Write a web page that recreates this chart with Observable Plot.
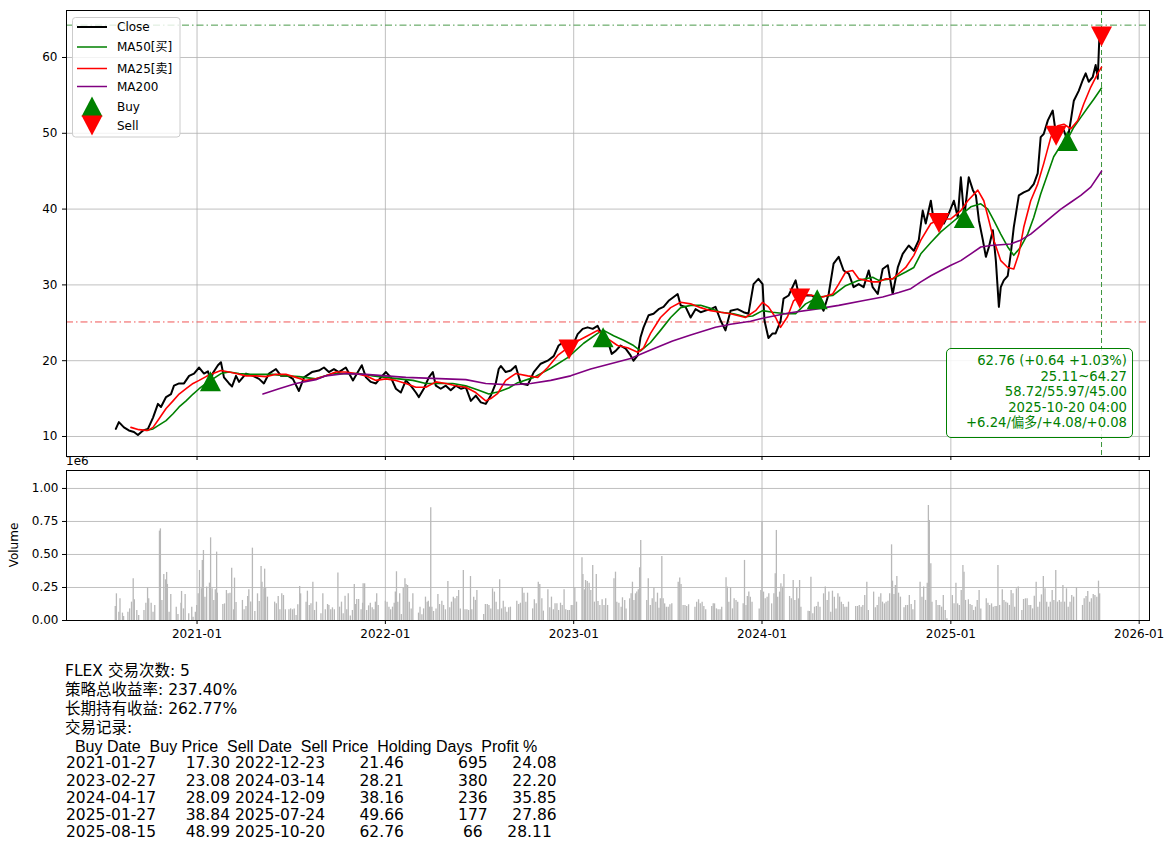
<!DOCTYPE html>
<html><head><meta charset="utf-8">
<script src="https://cdn.jsdelivr.net/npm/d3@7"></script>
<script src="https://cdn.jsdelivr.net/npm/@observablehq/plot@0.6"></script>
<style>
html,body{margin:0;padding:0;background:#fff;}
#root{position:relative;width:1175px;height:852px;overflow:hidden;font-family:"DejaVu Sans","Noto Sans CJK SC",sans-serif;color:#000;}
#root svg{position:absolute;left:0;}
.abs{position:absolute;}
#info{left:946px;top:348px;width:187px;height:90px;border:1.2px solid #008000;border-radius:5px;background:rgba(255,255,255,0.85);color:#008000;font-size:13.2px;line-height:15.5px;text-align:right;box-sizing:border-box;padding:4px 5px 0 0;white-space:pre;}
#summary{left:65px;top:662px;font-size:15.5px;line-height:19.1px;white-space:pre;}
#thead{left:66px;top:738.1px;font-family:"Liberation Sans","Noto Sans CJK SC",sans-serif;font-size:16px;line-height:17.2px;white-space:pre;}
#table{left:66px;top:755.3px;font-size:15.5px;line-height:17.2px;white-space:pre;}
#e6{left:66px;top:454px;font-size:12px;}
#vlabel{left:-12px;top:538px;font-size:12px;transform:rotate(-90deg);transform-origin:center;width:52px;text-align:center;}
</style></head>
<body><div id="root"></div>
<script>
// ---------------- data ----------------
const ticker = "FLEX";
const xStart = "2020-04-23", xEnd = "2026-01-21";
const xTickLabels = ["2021-01","2022-01","2023-01","2024-01","2025-01","2026-01"];
const yTicks = [10,20,30,40,50,60];
const volTicks = [0,0.25,0.5,0.75,1.0];
const priceDomain = [7.36, 66.2];
const volDomain = [0, 1.136]; // in units of 1e6

// [decimal year, close]
const closeSeries = [
[2020.570,11.0],[2020.586,11.9],[2020.613,11.2],[2020.639,10.8],[2020.666,10.6],[2020.687,10.2],[2020.714,10.8],[2020.740,11.0],
[2020.767,12.5],[2020.793,14.3],[2020.809,13.9],[2020.836,15.2],[2020.862,15.6],[2020.878,16.7],[2020.905,17.0],[2020.931,17.0],
[2020.958,18.0],[2020.984,18.3],[2021.011,19.1],[2021.037,18.3],[2021.058,18.6],[2021.071,17.3],[2021.085,18.4],[2021.111,19.4],
[2021.127,19.8],[2021.143,17.8],[2021.170,17.0],[2021.186,16.6],[2021.207,18.0],[2021.223,17.2],[2021.260,18.3],[2021.297,18.0],
[2021.329,17.6],[2021.355,17.0],[2021.382,18.3],[2021.419,18.9],[2021.446,18.0],[2021.483,18.0],[2021.509,17.6],[2021.541,16.0],
[2021.568,17.8],[2021.610,18.5],[2021.647,18.7],[2021.674,19.1],[2021.700,18.5],[2021.727,18.9],[2021.753,18.5],[2021.790,19.1],
[2021.828,17.4],[2021.854,18.5],[2021.875,19.4],[2021.897,17.8],[2021.923,17.2],[2021.950,17.0],[2021.976,17.8],[2022.003,18.5],
[2022.029,17.8],[2022.056,16.3],[2022.082,15.8],[2022.109,17.4],[2022.135,16.7],[2022.162,15.8],[2022.178,15.2],[2022.204,16.3],
[2022.231,17.8],[2022.252,18.5],[2022.268,16.7],[2022.294,16.3],[2022.321,16.7],[2022.347,16.1],[2022.374,16.7],[2022.401,16.3],
[2022.427,16.5],[2022.454,14.7],[2022.480,15.4],[2022.507,14.5],[2022.533,14.3],[2022.560,15.4],[2022.586,17.0],[2022.602,18.9],
[2022.613,19.3],[2022.639,18.5],[2022.666,18.7],[2022.692,19.3],[2022.719,17.0],[2022.756,16.8],[2022.788,18.5],[2022.825,19.6],
[2022.862,20.0],[2022.894,20.6],[2022.920,22.0],[2022.942,22.4],[2022.968,21.8],[2022.975,21.46],[2022.995,22.0],[2023.021,23.5],
[2023.048,24.2],[2023.074,24.4],[2023.101,24.2],[2023.127,24.6],[2023.156,23.08],[2023.180,22.7],[2023.202,20.9],[2023.223,21.3],
[2023.249,22.0],[2023.276,21.6],[2023.302,20.7],[2023.318,20.0],[2023.340,20.7],[2023.355,23.1],[2023.371,24.4],[2023.398,26.0],
[2023.424,26.2],[2023.451,26.8],[2023.477,27.1],[2023.504,27.9],[2023.531,28.4],[2023.552,28.8],[2023.568,27.3],[2023.594,27.1],
[2023.621,25.7],[2023.647,26.8],[2023.674,26.4],[2023.700,26.6],[2023.727,26.8],[2023.753,27.1],[2023.780,25.3],[2023.806,24.0],
[2023.833,26.6],[2023.870,26.8],[2023.902,26.4],[2023.928,26.2],[2023.955,30.1],[2023.981,30.8],[2024.003,30.1],[2024.013,25.3],
[2024.034,23.0],[2024.056,23.6],[2024.072,23.6],[2024.098,25.2],[2024.114,28.2],[2024.141,28.6],[2024.178,30.6],[2024.199,28.21],
[2024.231,28.6],[2024.263,28.6],[2024.292,28.09],[2024.326,26.6],[2024.353,28.8],[2024.379,32.8],[2024.406,33.7],[2024.432,31.9],
[2024.459,31.5],[2024.485,29.7],[2024.512,30.1],[2024.538,29.7],[2024.565,31.9],[2024.586,29.7],[2024.613,28.8],[2024.639,32.1],
[2024.666,32.6],[2024.692,28.8],[2024.719,32.3],[2024.745,34.1],[2024.777,35.2],[2024.804,34.5],[2024.830,35.9],[2024.851,39.8],
[2024.867,38.1],[2024.894,41.1],[2024.910,38.3],[2024.937,38.16],[2024.963,38.1],[2024.989,39.4],[2025.016,41.1],[2025.037,38.9],
[2025.053,44.2],[2025.071,38.84],[2025.095,44.2],[2025.117,42.5],[2025.133,41.8],[2025.149,38.5],[2025.170,35.9],[2025.186,33.7],
[2025.202,35.0],[2025.223,37.2],[2025.239,33.2],[2025.255,27.1],[2025.265,29.7],[2025.281,30.6],[2025.302,31.2],[2025.318,34.1],
[2025.334,37.6],[2025.361,41.8],[2025.387,42.2],[2025.414,42.5],[2025.440,43.3],[2025.461,44.7],[2025.477,49.5],[2025.493,49.9],
[2025.515,51.7],[2025.541,53.0],[2025.559,49.66],[2025.573,50.4],[2025.600,50.4],[2025.619,48.99],[2025.637,51.7],[2025.653,54.3],
[2025.679,55.6],[2025.700,57.0],[2025.716,57.9],[2025.732,56.8],[2025.753,57.4],[2025.769,59.0],[2025.780,57.2],[2025.790,63.6],
[2025.800,62.76]
];

// MA25 (sell line)
const ma25Series = [
[2020.650,11.2],[2020.692,10.9],[2020.740,10.8],[2020.767,11.2],[2020.798,12.3],[2020.836,13.7],[2020.873,14.7],[2020.905,15.6],
[2020.942,16.3],[2020.979,17.0],[2021.011,17.4],[2021.048,17.9],[2021.085,18.3],[2021.127,18.7],[2021.170,18.5],[2021.207,18.3],
[2021.260,18.0],[2021.313,18.0],[2021.366,17.9],[2021.419,18.2],[2021.472,18.2],[2021.525,17.8],[2021.578,17.4],[2021.631,17.6],
[2021.684,18.0],[2021.737,18.5],[2021.790,18.5],[2021.843,18.3],[2021.897,18.0],[2021.950,17.4],[2022.003,17.6],[2022.056,17.4],
[2022.109,17.0],[2022.162,16.5],[2022.215,16.5],[2022.268,17.2],[2022.321,17.0],[2022.374,16.7],[2022.427,16.5],[2022.480,15.8],
[2022.533,14.7],[2022.560,15.0],[2022.597,15.7],[2022.639,17.4],[2022.692,18.3],[2022.756,18.0],[2022.809,17.8],[2022.862,19.1],
[2022.915,20.7],[2022.968,21.7],[2023.021,22.6],[2023.074,23.3],[2023.127,24.0],[2023.180,22.9],[2023.233,22.0],[2023.286,21.7],
[2023.340,21.1],[2023.371,21.7],[2023.408,23.6],[2023.461,25.7],[2023.515,27.0],[2023.568,27.7],[2023.621,27.5],[2023.674,27.0],
[2023.727,26.6],[2023.780,26.4],[2023.833,26.2],[2023.912,25.7],[2023.966,26.6],[2024.003,27.7],[2024.034,27.1],[2024.072,25.7],
[2024.098,24.4],[2024.135,25.8],[2024.167,27.9],[2024.215,28.8],[2024.268,28.6],[2024.321,28.4],[2024.374,28.8],[2024.406,30.1],
[2024.443,31.7],[2024.480,31.9],[2024.512,30.8],[2024.549,30.6],[2024.586,30.4],[2024.618,30.4],[2024.655,30.8],[2024.692,30.8],
[2024.724,31.5],[2024.761,32.3],[2024.804,33.9],[2024.841,35.9],[2024.894,38.1],[2024.947,38.7],[2025.000,38.7],[2025.053,39.8],
[2025.090,41.1],[2025.143,42.5],[2025.175,41.1],[2025.202,38.5],[2025.228,35.9],[2025.265,33.2],[2025.302,32.3],[2025.334,32.1],
[2025.361,34.1],[2025.387,37.6],[2025.424,41.1],[2025.461,43.3],[2025.493,46.0],[2025.531,49.5],[2025.568,51.0],[2025.600,51.2],
[2025.637,50.6],[2025.674,51.7],[2025.706,53.9],[2025.743,56.1],[2025.780,57.9],[2025.800,58.72]
];

// MA50 (buy line)
const ma50Series = [
[2020.729,10.8],[2020.767,11.0],[2020.798,11.5],[2020.836,12.1],[2020.873,13.0],[2020.905,13.9],[2020.942,14.7],[2020.979,15.6],
[2021.011,16.3],[2021.048,17.0],[2021.085,17.6],[2021.127,18.3],[2021.170,18.5],[2021.223,18.3],[2021.276,18.2],[2021.329,18.2],
[2021.403,18.2],[2021.472,18.0],[2021.541,17.9],[2021.631,17.6],[2021.721,18.3],[2021.790,18.3],[2021.859,18.3],[2021.934,18.0],
[2022.003,17.8],[2022.072,17.6],[2022.146,17.4],[2022.215,17.0],[2022.284,17.0],[2022.358,17.0],[2022.427,16.7],[2022.496,16.1],
[2022.549,15.6],[2022.602,15.9],[2022.655,16.4],[2022.703,17.1],[2022.788,17.8],[2022.878,19.0],[2022.968,20.4],[2023.053,22.3],
[2023.127,23.6],[2023.159,24.0],[2023.212,23.3],[2023.265,22.7],[2023.318,22.0],[2023.355,21.3],[2023.408,22.4],[2023.461,24.0],
[2023.515,25.7],[2023.568,27.0],[2023.621,27.3],[2023.674,27.3],[2023.727,26.9],[2023.780,26.4],[2023.849,26.2],[2023.912,25.8],
[2023.950,25.9],[2024.003,26.6],[2024.056,26.4],[2024.125,26.2],[2024.178,26.2],[2024.231,27.5],[2024.300,28.4],[2024.374,28.6],
[2024.443,29.9],[2024.512,30.6],[2024.586,31.0],[2024.618,30.6],[2024.692,30.8],[2024.761,31.7],[2024.804,32.3],[2024.841,34.1],
[2024.894,35.6],[2024.947,37.0],[2025.000,38.1],[2025.053,39.2],[2025.106,40.3],[2025.159,40.7],[2025.196,40.0],[2025.228,38.5],
[2025.265,36.7],[2025.302,35.0],[2025.334,33.9],[2025.371,35.0],[2025.408,36.7],[2025.440,38.9],[2025.477,42.0],[2025.515,44.7],
[2025.546,46.9],[2025.584,48.4],[2025.621,49.3],[2025.653,50.8],[2025.690,52.1],[2025.727,53.4],[2025.759,54.5],[2025.800,55.97]
];

// MA200
const ma200Series = [
[2021.350,15.6],[2021.435,16.3],[2021.525,17.0],[2021.631,17.5],[2021.684,18.0],[2021.790,18.3],[2021.897,18.2],[2022.003,18.0],
[2022.109,17.8],[2022.215,17.7],[2022.321,17.6],[2022.427,17.5],[2022.533,17.0],[2022.666,16.8],[2022.772,17.0],[2022.878,17.4],
[2022.984,18.0],[2023.090,18.9],[2023.196,19.6],[2023.302,20.3],[2023.408,21.4],[2023.525,22.6],[2023.621,23.4],[2023.753,24.4],
[2023.833,24.8],[2023.939,25.2],[2024.003,25.6],[2024.141,26.3],[2024.284,26.8],[2024.406,27.3],[2024.533,27.9],[2024.639,28.4],
[2024.724,29.0],[2024.788,29.5],[2024.841,30.4],[2024.894,31.2],[2024.947,31.9],[2025.000,32.6],[2025.053,33.2],[2025.106,34.1],
[2025.159,35.0],[2025.212,35.2],[2025.265,35.3],[2025.318,35.4],[2025.371,35.9],[2025.424,36.7],[2025.477,37.8],[2025.531,38.9],
[2025.584,40.0],[2025.637,40.9],[2025.690,41.8],[2025.743,42.9],[2025.800,45.0]
];

// Volume, in units of 1e6 shares
const volumeSeries = [
[2020.567,0.106],[2020.573,0.202],[2020.586,0.063],[2020.592,0.164],[2020.605,0.056],[2020.611,0.030],[2020.634,0.063],[2020.643,0.088],
[2020.653,0.139],[2020.662,0.316],[2020.668,0.157],[2020.681,0.076],[2020.691,0.038],[2020.719,0.076],[2020.729,0.131],[2020.738,0.247],
[2020.744,0.164],[2020.757,0.131],[2020.767,0.063],[2020.776,0.114],[2020.801,0.677],[2020.806,0.694],[2020.814,0.152],[2020.824,0.348],
[2020.833,0.308],[2020.839,0.364],[2020.843,0.273],[2020.852,0.063],[2020.861,0.197],[2020.890,0.101],[2020.899,0.045],[2020.915,0.131],
[2020.918,0.220],[2020.928,0.088],[2020.937,0.197],[2020.956,0.051],[2020.972,0.101],[2020.979,0.025],[2020.991,0.063],[2020.998,0.114],
[2021.006,0.202],[2021.013,0.379],[2021.023,0.240],[2021.028,0.455],[2021.034,0.530],[2021.042,0.177],[2021.051,0.253],[2021.066,0.283],
[2021.072,0.626],[2021.080,0.240],[2021.089,0.152],[2021.097,0.232],[2021.104,0.518],[2021.108,0.207],[2021.137,0.121],[2021.146,0.126],
[2021.156,0.227],[2021.165,0.202],[2021.175,0.207],[2021.184,0.396],[2021.194,0.081],[2021.199,0.321],[2021.207,0.136],[2021.241,0.152],
[2021.250,0.081],[2021.260,0.106],[2021.269,0.182],[2021.275,0.232],[2021.285,0.141],[2021.294,0.548],[2021.307,0.068],[2021.321,0.202],
[2021.330,0.144],[2021.340,0.409],[2021.345,0.290],[2021.355,0.240],[2021.359,0.389],[2021.364,0.245],[2021.374,0.177],[2021.412,0.139],
[2021.421,0.126],[2021.431,0.182],[2021.440,0.081],[2021.450,0.202],[2021.459,0.189],[2021.469,0.081],[2021.488,0.081],[2021.497,0.088],
[2021.507,0.081],[2021.516,0.088],[2021.526,0.038],[2021.535,0.119],[2021.545,0.258],[2021.550,0.202],[2021.579,0.139],[2021.586,0.222],
[2021.596,0.114],[2021.605,0.126],[2021.615,0.290],[2021.624,0.076],[2021.634,0.139],[2021.658,0.051],[2021.668,0.202],[2021.681,0.081],
[2021.693,0.121],[2021.700,0.114],[2021.710,0.081],[2021.719,0.096],[2021.729,0.081],[2021.748,0.359],[2021.757,0.101],[2021.767,0.139],
[2021.776,0.051],[2021.786,0.184],[2021.795,0.081],[2021.803,0.202],[2021.814,0.035],[2021.825,0.076],[2021.835,0.273],[2021.841,0.121],
[2021.848,0.159],[2021.858,0.159],[2021.871,0.081],[2021.879,0.131],[2021.882,0.278],[2021.890,0.278],[2021.901,0.076],[2021.911,0.111],
[2021.920,0.131],[2021.930,0.096],[2021.939,0.081],[2021.947,0.139],[2021.954,0.202],[2021.962,0.114],[2022.000,0.146],[2022.009,0.139],
[2022.019,0.101],[2022.028,0.081],[2022.038,0.101],[2022.047,0.131],[2022.053,0.215],[2022.059,0.369],[2022.066,0.139],[2022.076,0.202],
[2022.085,0.045],[2022.095,0.247],[2022.104,0.316],[2022.110,0.273],[2022.118,0.265],[2022.127,0.139],[2022.137,0.088],[2022.146,0.202],
[2022.176,0.056],[2022.184,0.101],[2022.194,0.043],[2022.203,0.088],[2022.213,0.177],[2022.222,0.139],[2022.228,0.146],[2022.235,0.101],
[2022.241,0.854],[2022.247,0.101],[2022.256,0.068],[2022.269,0.088],[2022.279,0.197],[2022.288,0.121],[2022.300,0.146],[2022.309,0.114],
[2022.319,0.081],[2022.332,0.295],[2022.342,0.096],[2022.351,0.139],[2022.361,0.177],[2022.370,0.164],[2022.380,0.182],[2022.389,0.227],
[2022.398,0.088],[2022.414,0.379],[2022.423,0.081],[2022.433,0.081],[2022.442,0.076],[2022.452,0.333],[2022.459,0.081],[2022.469,0.177],
[2022.478,0.152],[2022.486,0.227],[2022.522,0.045],[2022.531,0.121],[2022.541,0.121],[2022.550,0.114],[2022.560,0.088],[2022.569,0.240],
[2022.579,0.215],[2022.588,0.139],[2022.598,0.081],[2022.607,0.308],[2022.617,0.088],[2022.626,0.146],[2022.636,0.101],[2022.645,0.063],
[2022.655,0.096],[2022.664,0.101],[2022.698,0.146],[2022.708,0.121],[2022.717,0.131],[2022.727,0.247],[2022.736,0.207],[2022.746,0.139],
[2022.755,0.207],[2022.782,0.088],[2022.791,0.157],[2022.801,0.126],[2022.812,0.290],[2022.820,0.273],[2022.831,0.164],[2022.839,0.071],
[2022.863,0.232],[2022.873,0.096],[2022.882,0.177],[2022.892,0.081],[2022.901,0.126],[2022.911,0.126],[2022.920,0.076],[2022.930,0.131],
[2022.939,0.114],[2022.949,0.232],[2022.958,0.081],[2022.968,0.076],[2022.977,0.076],[2022.987,0.114],[2022.996,0.114],[2023.006,0.247],
[2023.015,0.139],[2023.044,0.475],[2023.049,0.348],[2023.057,0.232],[2023.063,0.303],[2023.072,0.295],[2023.082,0.283],[2023.091,0.227],
[2023.101,0.417],[2023.110,0.139],[2023.120,0.348],[2023.129,0.144],[2023.139,0.114],
[2023.151,0.157],[2023.161,0.114],[2023.170,0.164],[2023.180,0.114],[2023.214,0.316],[2023.222,0.366],[2023.229,0.139],[2023.240,0.131],
[2023.252,0.101],[2023.259,0.172],[2023.271,0.152],[2023.278,0.088],[2023.297,0.164],[2023.305,0.202],[2023.312,0.290],[2023.320,0.152],
[2023.328,0.202],[2023.335,0.215],[2023.343,0.232],[2023.350,0.399],[2023.356,0.606],[2023.388,0.152],[2023.396,0.316],[2023.407,0.114],
[2023.417,0.164],[2023.426,0.245],[2023.436,0.139],[2023.445,0.207],[2023.453,0.093],[2023.460,0.164],[2023.468,0.485],[2023.475,0.164],
[2023.483,0.126],[2023.492,0.101],[2023.502,0.101],[2023.511,0.119],[2023.521,0.126],[2023.555,0.290],[2023.563,0.321],[2023.570,0.273],
[2023.581,0.114],[2023.591,0.114],[2023.600,0.106],[2023.610,0.119],[2023.644,0.101],[2023.653,0.139],[2023.663,0.157],[2023.672,0.126],
[2023.682,0.139],[2023.691,0.106],[2023.701,0.081],[2023.733,0.106],[2023.741,0.126],[2023.748,0.126],[2023.758,0.088],[2023.767,0.081],
[2023.777,0.081],[2023.786,0.101],[2023.809,0.323],[2023.816,0.253],[2023.824,0.139],[2023.833,0.247],[2023.843,0.088],[2023.852,0.164],
[2023.862,0.152],[2023.871,0.139],[2023.900,0.126],[2023.907,0.455],[2023.915,0.114],[2023.922,0.182],[2023.930,0.215],[2023.938,0.177],
[2023.947,0.139],[2023.985,0.088],[2023.994,0.227],[2024.000,0.745],[2024.008,0.215],[2024.017,0.164],[2024.027,0.177],[2024.036,0.202],
[2024.051,0.126],[2024.063,0.202],[2024.070,0.354],[2024.076,0.682],[2024.083,0.177],[2024.093,0.215],[2024.100,0.278],[2024.108,0.253],
[2024.116,0.348],[2024.146,0.182],[2024.155,0.164],[2024.165,0.303],[2024.174,0.152],[2024.184,0.247],[2024.193,0.164],[2024.199,0.303],
[2024.206,0.101],[2024.244,0.071],[2024.252,0.068],[2024.259,0.328],[2024.269,0.051],[2024.278,0.101],[2024.288,0.106],[2024.297,0.139],
[2024.307,0.101],[2024.326,0.202],[2024.335,0.253],[2024.345,0.152],[2024.354,0.215],[2024.364,0.063],[2024.373,0.222],[2024.383,0.177],
[2024.392,0.088],[2024.402,0.202],[2024.411,0.177],[2024.420,0.139],[2024.430,0.121],[2024.439,0.101],[2024.449,0.101],[2024.458,0.139],
[2024.496,0.106],[2024.506,0.106],[2024.515,0.114],[2024.525,0.101],[2024.534,0.114],[2024.544,0.189],[2024.555,0.290],[2024.563,0.076],
[2024.591,0.215],[2024.600,0.096],[2024.610,0.114],[2024.619,0.177],[2024.629,0.202],[2024.638,0.139],[2024.648,0.126],[2024.657,0.139],
[2024.667,0.146],[2024.676,0.202],[2024.686,0.573],[2024.691,0.298],[2024.699,0.197],[2024.706,0.265],[2024.714,0.333],[2024.723,0.207],
[2024.733,0.177],[2024.752,0.096],[2024.761,0.114],[2024.771,0.114],[2024.780,0.189],[2024.790,0.121],[2024.799,0.081],[2024.809,0.152],
[2024.837,0.290],[2024.847,0.177],[2024.856,0.253],[2024.866,0.152],[2024.875,0.283],[2024.881,0.871],[2024.886,0.758],[2024.894,0.429],
[2024.900,0.139],[2024.922,0.152],[2024.932,0.114],[2024.941,0.114],[2024.951,0.101],[2024.960,0.189],[2024.970,0.076],[2024.979,0.013],
[2025.008,0.189],[2025.017,0.126],[2025.027,0.283],[2025.036,0.126],[2025.045,0.114],[2025.055,0.227],[2025.064,0.417],[2025.070,0.366],
[2025.078,0.152],[2025.093,0.157],[2025.102,0.121],[2025.112,0.114],[2025.121,0.076],[2025.131,0.101],[2025.140,0.152],[2025.150,0.227],
[2025.159,0.088],[2025.188,0.164],[2025.197,0.131],[2025.206,0.114],[2025.216,0.126],[2025.225,0.101],[2025.235,0.106],[2025.244,0.106],
[2025.250,0.417],[2025.259,0.114],[2025.273,0.232],[2025.282,0.152],[2025.292,0.139],[2025.301,0.131],[2025.311,0.114],[2025.320,0.227],
[2025.330,0.202],[2025.339,0.101],[2025.348,0.240],[2025.358,0.253],[2025.377,0.076],[2025.386,0.159],[2025.396,0.164],[2025.405,0.164],
[2025.415,0.114],[2025.424,0.114],[2025.434,0.088],[2025.443,0.184],[2025.453,0.290],[2025.462,0.101],[2025.472,0.139],[2025.481,0.194],
[2025.491,0.333],[2025.500,0.240],[2025.509,0.139],[2025.519,0.101],[2025.528,0.139],[2025.538,0.227],[2025.547,0.152],[2025.557,0.379],
[2025.566,0.139],[2025.576,0.152],[2025.585,0.139],[2025.595,0.265],[2025.604,0.139],[2025.614,0.240],[2025.623,0.101],[2025.633,0.139],
[2025.642,0.189],[2025.652,0.177],[2025.667,0.247],[2025.699,0.114],[2025.708,0.164],[2025.718,0.182],[2025.727,0.220],[2025.737,0.139],
[2025.746,0.164],[2025.756,0.197],[2025.765,0.189],[2025.775,0.177],[2025.784,0.298],[2025.790,0.202]
];

// trade records
const buyDates   = ["2021-01-27","2023-02-27","2024-04-17","2025-01-27","2025-08-15"];
const buyPrices  = [17.30, 23.08, 28.09, 38.84, 48.99];
const sellDates  = ["2022-12-23","2024-03-14","2024-12-09","2025-07-24","2025-10-20"];
const sellPrices = [21.46, 28.21, 38.16, 49.66, 62.76];
const holdDays   = [695, 380, 236, 177, 66];
const profitPct  = [24.08, 22.20, 35.85, 27.86, 28.11];

const tradeCount = 5;
const strategyReturn = "237.40%";
const holdReturn = "262.77%";
const lowPrice = 25.11, highPrice = 64.27;
const lastDate = "2025-10-20";
const infoLines = ["62.76 (+0.64 +1.03%)", "25.11~64.27", "58.72/55.97/45.00", "2025-10-20 04:00", "+6.24/偏多/+4.08/+0.08"];
const legendItems = [
  {label:"Close", color:"black", kind:"line", w:2},
  {label:"MA50[买]", color:"green", kind:"line", w:1.5},
  {label:"MA25[卖]", color:"red", kind:"line", w:1.5},
  {label:"MA200", color:"purple", kind:"line", w:1.5},
  {label:"Buy", color:"green", kind:"up"},
  {label:"Sell", color:"red", kind:"down"}
];

// ---------------- helpers ----------------
const toDate = t => { const y = Math.floor(t); const a = Date.UTC(y,0,1), b = Date.UTC(y+1,0,1); return new Date(a + (t - y) * (b - a)); };
const asRows = arr => arr.map(([t, v]) => ({date: toDate(t), value: v}));
const xDomain = [new Date(xStart), new Date(xEnd)];
const xTickDates = xTickLabels.map(s => new Date(s + "-01"));
const triUp = {draw(ctx){ ctx.moveTo(0,-10); ctx.lineTo(10.5,10); ctx.lineTo(-10.5,10); ctx.closePath(); }};
const triDown = {draw(ctx){ ctx.moveTo(0,10); ctx.lineTo(10.5,-10); ctx.lineTo(-10.5,-10); ctx.closePath(); }};
const buys = buyDates.map((d,i) => ({date:new Date(d), price:buyPrices[i]}));
const sells = sellDates.map((d,i) => ({date:new Date(d), price:sellPrices[i]}));
const gridStyle = {stroke:"#b0b0b0", strokeWidth:0.8};
const baseStyle = {fontFamily:"DejaVu Sans, Noto Sans CJK SC, sans-serif", fontSize:"12px", color:"black", background:"transparent", overflow:"visible"};

const root = document.getElementById("root");

// ---------------- main price chart ----------------
const main = Plot.plot({
  width:1175, height:460, marginLeft:66, marginRight:26, marginTop:10, marginBottom:4,
  style: baseStyle,
  x:{type:"utc", domain:xDomain, ticks:xTickDates, tickFormat:()=>"", tickSize:4, label:null},
  y:{domain:priceDomain, ticks:yTicks, tickFormat:d=>String(d), tickSize:4, tickPadding:5, label:null},
  marks:[
    Plot.ruleX(xTickDates, gridStyle),
    Plot.ruleY(yTicks, gridStyle),
    Plot.ruleY([highPrice], {stroke:"#4a9a4a", strokeWidth:1, strokeDasharray:"7,3,1.5,3"}),
    Plot.ruleY([lowPrice], {stroke:"#f05555", strokeWidth:1, strokeDasharray:"7,3,1.5,3"}),
    Plot.ruleX([new Date(lastDate)], {stroke:"#3c963c", strokeWidth:1, strokeDasharray:"5,3"}),
    Plot.line(asRows(closeSeries), {x:"date", y:"value", stroke:"black", strokeWidth:2}),
    Plot.line(asRows(ma50Series), {x:"date", y:"value", stroke:"green", strokeWidth:1.6}),
    Plot.line(asRows(ma25Series), {x:"date", y:"value", stroke:"red", strokeWidth:1.6}),
    Plot.line(asRows(ma200Series), {x:"date", y:"value", stroke:"purple", strokeWidth:1.6}),
    Plot.dot(buys, {x:"date", y:"price", symbol:triUp, fill:"green", stroke:"none", r:10}),
    Plot.dot(sells, {x:"date", y:"price", symbol:triDown, fill:"red", stroke:"none", r:10}),
    Plot.frame({stroke:"black", strokeWidth:1})
  ]
});
main.style.top = "0px";
root.appendChild(main);

// ---------------- volume chart ----------------
const vol = Plot.plot({
  width:1175, height:190, marginLeft:66, marginRight:26, marginTop:10, marginBottom:30,
  style: baseStyle,
  x:{type:"utc", domain:xDomain, ticks:xTickDates, tickFormat:d3.utcFormat("%Y-%m"), tickSize:4, label:null},
  y:{domain:volDomain, ticks:volTicks, tickFormat:d3.format(".2f"), tickSize:4, tickPadding:4, label:null},
  marks:[
    Plot.ruleX(xTickDates, gridStyle),
    Plot.ruleY(volTicks, gridStyle),
    Plot.ruleX(asRows(volumeSeries), {x:"date", y1:0, y2:"value", stroke:"#b8b8b8", strokeWidth:1.3}),
    Plot.frame({stroke:"black", strokeWidth:1})
  ]
});
vol.style.top = "460px";
root.appendChild(vol);

// ---------------- legend ----------------
const lg = d3.create("svg").attr("width",110).attr("height",121)
  .style("position","absolute").style("left","72px").style("top","16.5px").style("overflow","visible");
lg.append("rect").attr("x",0.5).attr("y",0.5).attr("width",107.5).attr("height",119.5).attr("rx",3)
  .attr("fill","white").attr("fill-opacity",0.8).attr("stroke","#cccccc");
const rowY = [10, 30, 51.5, 69.5, 89.5, 108.5];
legendItems.forEach((it,i) => {
  const y = rowY[i];
  if (it.kind === "line") {
    lg.append("line").attr("x1",5).attr("x2",35).attr("y1",y).attr("y2",y).attr("stroke",it.color).attr("stroke-width",it.w);
  } else {
    const p = it.kind === "up" ? `M20,${y-10}L30.5,${y+10}L9.5,${y+10}Z` : `M20,${y+10}L30.5,${y-10}L9.5,${y-10}Z`;
    lg.append("path").attr("d",p).attr("fill",it.color);
  }
  lg.append("text").attr("x",45).attr("y",y).attr("dy","0.35em").attr("font-size",12)
    .attr("font-family","DejaVu Sans, Noto Sans CJK SC, sans-serif").text(it.label);
});
root.appendChild(lg.node());

// ---------------- info box ----------------
const info = document.createElement("div");
info.id = "info"; info.className = "abs";
info.textContent = infoLines.join("\n");
root.appendChild(info);

// ---------------- axis annotations ----------------
const e6 = document.createElement("div"); e6.id = "e6"; e6.className = "abs"; e6.textContent = "1e6"; root.appendChild(e6);
const vl = document.createElement("div"); vl.id = "vlabel"; vl.className = "abs"; vl.textContent = "Volume"; root.appendChild(vl);

// ---------------- summary text + trade table ----------------
const summary = document.createElement("div");
summary.id = "summary"; summary.className = "abs";
summary.textContent = [`${ticker} 交易次数: ${tradeCount}`, `策略总收益率: ${strategyReturn}`, `长期持有收益: ${holdReturn}`, `交易记录:`].join("\n");
root.appendChild(summary);

const header = "  Buy Date" + "  Buy Price" + "  Sell Date" + "  Sell Price" + "  Holding Days" + "  Profit %";
const thead = document.createElement("div");
thead.id = "thead"; thead.className = "abs";
thead.textContent = header;
root.appendChild(thead);

const rows = buyDates.map((d,i) =>
  d.padStart(10) + buyPrices[i].toFixed(2).padStart(11) + (" " + sellDates[i]).padStart(11) +
  sellPrices[i].toFixed(2).padStart(12) + String(holdDays[i]).padStart(14) + profitPct[i].toFixed(2).padStart(10));
const table = document.createElement("div");
table.id = "table"; table.className = "abs";
table.textContent = rows.join("\n");
root.appendChild(table);
</script>
</body></html>
